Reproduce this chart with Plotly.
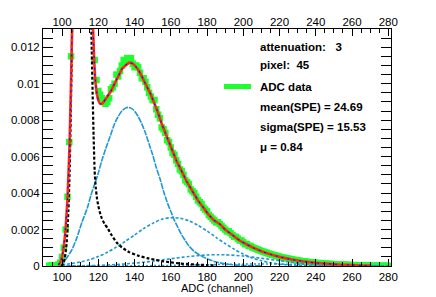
import plotly.graph_objects as go

# ---------------- data ----------------
adc_channels = list(range(93, 106)) + list(range(118, 281))
adc_values = [
    0.00002, 0.00003, 0.00002, 0.00004, 0.00003, 0.00008, 0.00018, 0.0005, 0.0010, 0.0020, 0.0038, 0.0068, 0.0115,
    0.0113, 0.0102, 0.0096, 0.0094, 0.0092, 0.0090, 0.0089, 0.0090, 0.0092, 0.0097,
    0.0098, 0.0100, 0.0105, 0.0104, 0.0107, 0.0110, 0.0113, 0.0112, 0.0114, 0.0113,
    0.0114, 0.0111, 0.0109, 0.0110, 0.0109, 0.0106, 0.0103, 0.0103, 0.0101, 0.0098,
    0.0095, 0.0093, 0.0091, 0.0091, 0.0086, 0.0083, 0.0081, 0.0076, 0.0075, 0.0073,
    0.0069, 0.0068, 0.0065, 0.0062, 0.0061,
    0.0058, 0.0056, 0.0053, 0.0052, 0.0050, 0.0047, 0.0046, 0.0045, 0.0042, 0.0041,
    0.0040, 0.0038, 0.0036, 0.0035, 0.0034, 0.0032, 0.0031, 0.0030, 0.0028, 0.0027,
    0.0026, 0.0025, 0.0024, 0.0024, 0.0023, 0.0022, 0.0021, 0.0020, 0.0019, 0.0019,
    0.0018, 0.0017, 0.0016, 0.0016, 0.0015, 0.0014, 0.0014, 0.0013, 0.0012, 0.0012,
    0.0011, 0.0011, 0.00102, 0.00098, 0.00094, 0.0009, 0.00086, 0.00082, 0.00079, 0.00075,
    0.00072, 0.00068, 0.00065, 0.00062, 0.0006, 0.00056, 0.00054, 0.00051, 0.00048, 0.00046,
    0.00044, 0.00042, 0.0004, 0.00038, 0.00036, 0.00034, 0.00032, 0.0003, 0.00029, 0.00027,
    0.00026, 0.00025, 0.00023, 0.00022, 0.00021, 0.0002, 0.00019, 0.00017, 0.00016, 0.00016,
    0.00015, 0.00014, 0.00013, 0.00012, 0.00012, 0.00011, 0.0001, 0.0001, 0.00009, 0.00009,
    0.00008, 0.00008, 0.00007, 0.00007, 0.00006, 0.00006, 0.00005, 0.00005, 0.00005, 0.00004,
    0.00004, 0.00004, 0.00003, 0.00003, 0.00003, 0.00003, 0.00002, 0.00002, 0.00002, 0.00002,
    0.00002, 0.00001, 0.00001, 0.00001, 0.00001, 0.00001, 0.00001, 0.00001,
]

# total fit (two pieces: left and right flank of the off-scale pedestal)
fit_x = [98, 99, 100, 101, 102, 103, 104, 104.6, 105.2, 105.8, None,
         116.6, 117.2, 117.7, 118.2, 119, 120, 121, 122, 123, 125, 127, 129, 131, 133, 135,
         137, 139, 141, 143, 145, 147, 149, 151, 153, 155, 157, 159, 161, 163, 165, 167,
         169, 172, 175, 178, 181, 184, 187, 190, 194, 198, 202, 206, 210, 215, 220, 225,
         230, 235, 240, 245, 250, 255, 260, 265, 270]
fit_y = [0.00005, 0.0002, 0.0005, 0.0011, 0.0021, 0.0037, 0.0062, 0.0085, 0.0112, 0.0145, None,
         0.0145, 0.0128, 0.0114, 0.0104, 0.0096, 0.0091, 0.0089, 0.0089, 0.0090, 0.0093, 0.0096,
         0.0100, 0.0104, 0.0108, 0.0110, 0.01115, 0.0111, 0.0109, 0.0106, 0.0102, 0.0098, 0.0094,
         0.0089, 0.0084, 0.0078, 0.0073, 0.0068, 0.0063, 0.0058, 0.0054, 0.0050, 0.0046, 0.0041,
         0.0036, 0.0032, 0.0028, 0.0025, 0.0023, 0.0020, 0.0017, 0.0014, 0.00118, 0.00098,
         0.00081, 0.00064, 0.0005, 0.00039, 0.0003, 0.00023, 0.00017, 0.00013, 0.0001, 0.00007,
         0.00005, 0.00003, 0.00002]

# pedestal component
ped_x = [99.5, 100.5, 101.5, 102.5, 103.5, 104.2, 104.8, 105.3, 105.8, None,
         115.9, 116.4, 116.9, 117.4, 118, 118.6, 119.3, 120, 121, 122, 123.5, 125, 127.3,
         130, 133, 137, 142, 147, 151, 155, 160, 165, 170, 175, 180, 185]
ped_y = [0.0, 0.0001, 0.0004, 0.0012, 0.0030, 0.0052, 0.0082, 0.0112, 0.0145, None,
         0.0145, 0.0118, 0.0094, 0.0072, 0.0052, 0.0043, 0.0037, 0.0033, 0.0029, 0.0026,
         0.0023, 0.0021, 0.0017, 0.0013, 0.00102, 0.00076, 0.00057, 0.00043, 0.00035,
         0.00027, 0.0002, 0.00014, 0.0001, 0.00007, 0.00005, 0.00003]

# single photo-electron component
pe1_x = [100, 101, 103, 105.5, 108, 111, 114, 116, 118, 120, 122, 124, 126.5, 129, 131, 133,
         135, 136.5, 138, 140, 142, 144, 146, 148, 150, 152, 154, 156, 158, 160, 162, 164,
         166, 168, 170, 173, 176, 180, 185, 190, 195, 200, 210]
pe1_y = [0.0, 0.0002, 0.0005, 0.0009, 0.0015, 0.0024, 0.0032, 0.0039, 0.0045, 0.0051,
         0.0058, 0.0064, 0.0071, 0.0078, 0.0082, 0.0085, 0.00866, 0.0087, 0.00866, 0.0085,
         0.0082, 0.0078, 0.0073, 0.0067, 0.0061, 0.0054, 0.0048, 0.0041, 0.0035, 0.0030,
         0.0025, 0.0021, 0.0017, 0.0014, 0.0011, 0.0008, 0.0006, 0.0004, 0.00022, 0.00012,
         0.00006, 0.00003, 0.00001]

# two photo-electron component
pe2_x = [100, 105, 110, 115, 120, 125, 130, 135, 140, 145, 150, 155, 160, 165, 170, 175,
         180, 185, 190, 195, 200, 205, 210, 215, 220, 225, 230, 240, 250]
pe2_y = [0.00007, 0.00013, 0.00022, 0.00034, 0.00052, 0.00075, 0.00104, 0.00136, 0.0017,
         0.00205, 0.00234, 0.00256, 0.00265, 0.00262, 0.00248, 0.00223, 0.00192, 0.00157,
         0.00123, 0.00092, 0.00065, 0.00044, 0.00029, 0.00018, 0.0001, 0.00006, 0.00003,
         0.00001, 0.0]

# three photo-electron component
pe3_x = [100, 110, 120, 130, 140, 150, 160, 170, 180, 186, 190, 200, 210, 220, 230, 240,
         250, 260, 270, 280]
pe3_y = [0.000005, 0.000014, 0.000036, 0.00008, 0.000155, 0.000265, 0.0004, 0.00052,
         0.000605, 0.00062, 0.000614, 0.000545, 0.000425, 0.00029, 0.000174, 0.000091,
         0.000042, 0.000017, 0.000006, 0.000002]

# four photo-electron component
pe4_x = [100, 120, 140, 160, 180, 200, 210, 220, 240, 260, 280]
pe4_y = [0.0, 0.000002, 0.0000094, 0.000031, 0.000069, 0.000104, 0.00011, 0.000105,
         0.000072, 0.000033, 0.00001]

x_ticks = [100, 120, 140, 160, 180, 200, 220, 240, 260, 280]
y_ticks = [0, 0.002, 0.004, 0.006, 0.008, 0.01, 0.012]
y_tick_labels = ["0", "0.002", "0.004", "0.006", "0.008", "0.01", "0.012"]
legend_lines = ["attenuation:   3", "pixel:  45", "ADC data",
                "mean(SPE) = 24.69", "sigma(SPE) = 15.53", "\u03bc = 0.84"]
x_title = "ADC (channel)"

# ---------------- figure ----------------
FONT = "Liberation Sans, Arial, Helvetica, sans-serif"
CYAN = "#1f97d4"
# the page body has an 8px margin: the figure is made 8px smaller and margins compensated
PAGE_OFF = 8
PLOT_L, PLOT_R, PLOT_T, PLOT_B = 43, 391, 29, 266   # plot area in window pixels
W, H = 436 - PAGE_OFF, 297 - PAGE_OFF
PW, PH = PLOT_R - PLOT_L, PLOT_B - PLOT_T

fig = go.Figure()
fig.add_trace(go.Scatter(x=adc_channels, y=adc_values, mode="markers",
                         marker=dict(symbol="square", size=6.5, color="#1cff2e",
                                     line=dict(width=0)),
                         showlegend=False, hoverinfo="skip"))

line_kw = dict(mode="lines", showlegend=False, hoverinfo="skip", connectgaps=False)
fig.add_trace(go.Scatter(x=pe4_x, y=pe4_y, line=dict(color=CYAN, width=1.6, dash="2px,2px",
                         shape="spline", smoothing=0.8), **line_kw))
fig.add_trace(go.Scatter(x=pe3_x, y=pe3_y, line=dict(color=CYAN, width=1.6, dash="3px,2px",
                         shape="spline", smoothing=0.8), **line_kw))
fig.add_trace(go.Scatter(x=pe2_x, y=pe2_y, line=dict(color=CYAN, width=1.6, dash="3px,2px",
                         shape="spline", smoothing=0.8), **line_kw))
fig.add_trace(go.Scatter(x=pe1_x, y=pe1_y, line=dict(color=CYAN, width=1.6, dash="6px,1px",
                         shape="spline", smoothing=0.8), **line_kw))
fig.add_trace(go.Scatter(x=ped_x, y=ped_y, line=dict(color="#000000", width=2.2, dash="3px,2px",
                         shape="spline", smoothing=0.4), **line_kw))
fig.add_trace(go.Scatter(x=fit_x, y=fit_y, line=dict(color="#ff2a10", width=2.6,
                         shape="spline", smoothing=0.4), **line_kw))
fig.add_trace(go.Scatter(x=fit_x, y=fit_y, line=dict(color="#1010ff", width=1.1, dash="2px,4px",
                         shape="spline", smoothing=0.4), **line_kw))
# invisible trace to create the top axis with labels
fig.add_trace(go.Scatter(x=[], y=[], xaxis="x2", yaxis="y", mode="lines",
                         showlegend=False, hoverinfo="skip"))

XR = [89.5, 281.5]
tickfont = dict(family=FONT, size=11.5, color="#000000")
fig.update_layout(
    width=W, height=H,
    margin=dict(l=PLOT_L - PAGE_OFF, r=436 - PLOT_R, t=PLOT_T - PAGE_OFF, b=297 - PLOT_B,
                autoexpand=False),
    paper_bgcolor="white", plot_bgcolor="white",
    showlegend=False,
    xaxis=dict(range=XR, tickvals=x_ticks, ticks="inside", ticklen=7, tickwidth=1,
               tickcolor="#000000", showline=True, linecolor="#000000", linewidth=1,
               mirror="allticks", showgrid=False, zeroline=False, tickfont=tickfont,
               automargin=False, ticklabelstandoff=0,
               minor=dict(dtick=5, tick0=0, ticks="inside", ticklen=4, tickcolor="#000000",
                          showgrid=False)),
    xaxis2=dict(range=XR, overlaying="x", side="top", anchor="y", tickvals=x_ticks,
                ticks="", showline=False, showgrid=False, zeroline=False, tickfont=tickfont,
                automargin=False),
    yaxis=dict(range=[0, 0.013], tickvals=y_ticks, ticktext=y_tick_labels, ticks="inside",
               ticklen=10, tickwidth=1, tickcolor="#000000", showline=True,
               linecolor="#000000", linewidth=1, mirror="allticks", showgrid=False,
               zeroline=False, tickfont=tickfont, automargin=False,
               minor=dict(dtick=0.0005, tick0=0, ticks="inside", ticklen=5,
                          tickcolor="#000000", showgrid=False)),
)

fig.add_annotation(text=x_title, xref="paper", yref="paper", x=0.5, y=0, yshift=-22,
                   xanchor="center", yanchor="middle", showarrow=False,
                   font=dict(family=FONT, size=11, color="#000000"))

legend_y = [47, 65, 86.5, 106.5, 126.5, 146.5]
for txt, py in zip(legend_lines, legend_y):
    fig.add_annotation(text="<b>" + txt + "</b>", xref="paper", yref="paper",
                       x=(258 - PLOT_L) / PW, y=1 - (py - PLOT_T) / PH, xanchor="left",
                       yanchor="middle", showarrow=False,
                       font=dict(family=FONT, size=11.5, color="#000000"))
fig.add_shape(type="line", xref="paper", yref="paper",
              x0=(224 - PLOT_L) / PW, x1=(251 - PLOT_L) / PW,
              y0=1 - (86.5 - PLOT_T) / PH, y1=1 - (86.5 - PLOT_T) / PH,
              line=dict(color="#1cff2e", width=5))

fig.write_html("out.html")
